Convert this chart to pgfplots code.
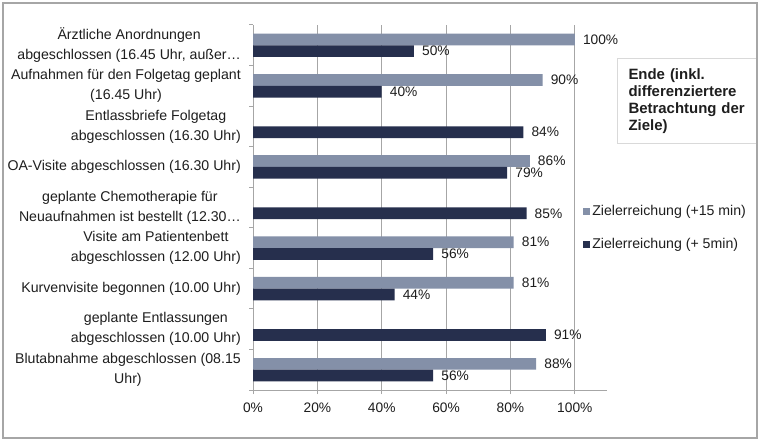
\documentclass[border=0pt]{standalone}
\usepackage{pgfplots}
\pgfplotsset{compat=1.18}
\usepackage{fontspec}
\setmainfont{Liberation Sans}
\definecolor{lightbar}{HTML}{8490A8}
\definecolor{darkbar}{HTML}{262F4D}
\definecolor{gridc}{HTML}{A6A6A6}
\definecolor{framec}{HTML}{A6A6A6}
\definecolor{boxc}{HTML}{D9D9D9}
\definecolor{txt}{HTML}{1E1E1E}
\begin{document}
\begin{tikzpicture}
\useasboundingbox (0,0) rectangle (760bp,442bp);
\fill[white] (0,0) rectangle (760bp,442bp);
\begin{axis}[
  at={(253bp,52bp)}, anchor=south west,
  scale only axis, width=354bp, height=365bp,
  xmin=0, xmax=110, ymin=-0.5, ymax=8.5,
  axis x line*=bottom, axis y line*=left,
  axis line style={gridc, line width=1bp, -},
  font=\fontsize{14.2}{20}\selectfont,
  xtick={0,20,40,60,80,100},
  xticklabels={0\%,20\%,40\%,60\%,80\%,100\%},
  ytick={0,...,8},
  yticklabels={
    {Blutabnahme abgeschlossen (08.15\\Uhr)},
    {geplante Entlassungen\\abgeschlossen (10.00 Uhr)},
    {Kurvenvisite begonnen (10.00 Uhr)},
    {Visite am Patientenbett\\abgeschlossen (12.00 Uhr)},
    {geplante Chemotherapie für\\Neuaufnahmen ist bestellt (12.30…},
    {OA-Visite abgeschlossen (16.30 Uhr)},
    {Entlassbriefe Folgetag\\abgeschlossen (16.30 Uhr)},
    {Aufnahmen für den Folgetag geplant\\(16.45 Uhr)},
    {Ärztliche Anordnungen\\abgeschlossen (16.45 Uhr, außer…}
  },
  minor ytick={-0.5,0.5,...,8.5},
  tick align=outside,
  major tick length=4bp, minor tick length=4bp,
  every major y tick/.append style={draw=none},
  tick style={gridc, line width=1bp},
  xmajorgrids, major grid style={gridc, line width=1bp},
  yticklabel style={align=center, anchor=east, inner sep=0pt, text=txt, xshift=-8bp},
  xticklabel style={anchor=north, inner sep=0pt, text=txt, yshift=-9bp,
    font=\fontsize{13.8}{16}\selectfont},
  bar width=11.7bp,
  point meta=x,
  nodes near coords={\pgfmathprintnumber{\pgfplotspointmeta}\%},
  nodes near coords style={anchor=west, inner sep=0pt, xshift=8bp, text=txt,
    font=\fontsize{13.8}{16}\selectfont},
  /pgf/number format/assume math mode=true,
  legend style={at={(0.924,0.517)}, anchor=north west, draw=none, fill=none,
    row sep=17bp, font=\fontsize{14.2}{16}\selectfont, text=txt},
  legend cell align=left,
]
\addplot[xbar, fill=lightbar, draw=none, bar shift=5.85bp,
  every node near coord/.append style={yshift=5.85bp},
  legend image code/.code={\fill (0bp,-3.5bp) rectangle (7bp,3.5bp);}]
  coordinates {(88,0) (81,2) (81,3) (86,5) (90,7) (100,8)};
\addlegendentry{Zielerreichung (+15 min)}
\addplot[xbar, fill=darkbar, draw=none, bar shift=-5.85bp,
  every node near coord/.append style={yshift=-5.85bp},
  legend image code/.code={\fill (0bp,-3.5bp) rectangle (7bp,3.5bp);}]
  coordinates {(56,0) (91,1) (44,2) (56,3) (85,4) (79,5) (84,6) (40,7) (50,8)};
\addlegendentry{Zielerreichung (+ 5min)}
\end{axis}
\node[draw=boxc, line width=1bp, fill=white, anchor=north west, text width=118bp,
  inner xsep=11bp, inner ysep=0pt, minimum height=85bp, align=left,
  font=\fontsize{15}{17.3}\selectfont\bfseries, text=txt]
  at (617bp,384bp) {Ende (inkl.\\differenziertere\\Betrachtung der\\Ziele)};
\draw[framec, line width=2bp] (2.7bp,3.7bp) rectangle (756.7bp,439.3bp);
\end{tikzpicture}
\end{document}
